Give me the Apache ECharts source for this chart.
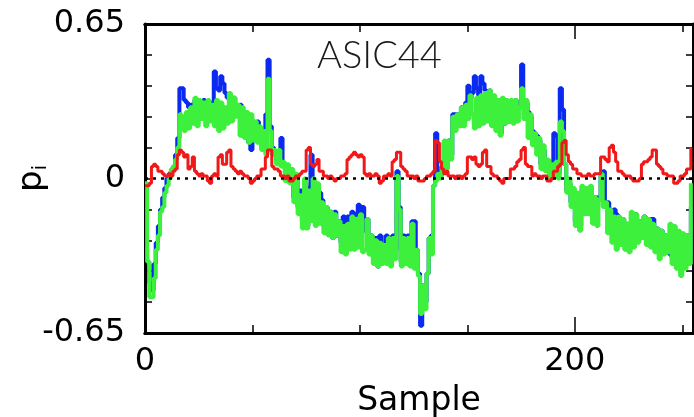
<!DOCTYPE html>
<html>
<head>
<meta charset="utf-8">
<script src="https://cdn.jsdelivr.net/npm/echarts@6/dist/echarts.min.js"></script>
<style>
  html, body { margin: 0; padding: 0; background: #fff; }
  #chart { width: 694px; height: 417px; }
</style>
</head>
<body>
<div id="chart"></div>
<script>
// p_i per sample
const blueP = [
  -0.30, -0.35, -0.44, -0.47, -0.36, -0.27, -0.20, -0.13, -0.08, -0.04,
  0.00, 0.02, 0.03, 0.05, 0.10, 0.17, 0.38, 0.38, 0.33, 0.32,
  0.30, 0.31, 0.28, 0.33, 0.30, 0.32, 0.30, 0.33, 0.29, 0.32,
  0.25, 0.32, 0.45, 0.38, 0.37, 0.43, 0.40, 0.36, 0.34, 0.35,
  0.33, 0.34, 0.31, 0.30, 0.31, 0.24, 0.25, 0.22, 0.15, 0.12,
  0.24, 0.17, 0.24, 0.18, 0.14, 0.18, 0.27, 0.50, 0.22, 0.13,
  0.11, 0.08, 0.10, 0.17, 0.06, 0.04, 0.05, -0.01, 0.03, -0.08,
  0.01, -0.12, -0.05, -0.18, -0.02, -0.20, -0.04, 0.10, -0.01, -0.18,
  -0.05, -0.06, -0.09, -0.20, -0.12, -0.22, -0.14, -0.25, -0.14, -0.24,
  -0.18, -0.27, -0.16, -0.19, -0.16, -0.20, -0.14, -0.25, -0.15, -0.11,
  -0.15, -0.12, -0.22, -0.17, -0.30, -0.24, -0.33, -0.25, -0.37, -0.24,
  -0.33, -0.28, -0.24, -0.25, -0.26, -0.24, -0.30, 0.03, -0.12, -0.35,
  -0.24, -0.29, -0.24, -0.33, -0.18, -0.18, -0.30, -0.40, -0.62, -0.45,
  -0.52, -0.40, -0.25, -0.24, -0.03, 0.19, 0.03, 0.01, 0.05, 0.15,
  0.05, 0.16, 0.10, 0.27, 0.27, 0.27, 0.23, 0.30, 0.24, 0.32,
  0.39, 0.34, 0.36, 0.43, 0.38, 0.35, 0.43, 0.40, 0.37, 0.33,
  0.37, 0.30, 0.33, 0.24, 0.30, 0.19, 0.30, 0.23, 0.31, 0.24,
  0.32, 0.28, 0.33, 0.29, 0.30, 0.48, 0.33, 0.32, 0.28, 0.26,
  0.20, 0.19, 0.18, 0.16, 0.06, 0.12, 0.04, 0.07, 0.01, 0.05,
  0.19, 0.18, 0.02, 0.38, 0.29, 0.06, -0.05, -0.02, -0.10, -0.05,
  -0.18, -0.07, -0.20, -0.05, -0.13, -0.05, -0.14, -0.04, -0.17, -0.08,
  -0.08, -0.09, 0.01, 0.03, -0.10, -0.10, -0.13, -0.17, -0.13, -0.15,
  -0.16, -0.17, -0.17, -0.25, -0.19, -0.25, -0.27, -0.28, -0.15, -0.26,
  -0.18, -0.25, -0.16, -0.18, -0.23, -0.17, -0.17, -0.30, -0.21, -0.25,
  -0.22, -0.30, -0.24, -0.30, -0.32, -0.33, -0.30, -0.36, -0.24, -0.38,
  -0.24, -0.35, -0.24, -0.33, -0.12
];

const greenP = [
  -0.02, -0.35, -0.50, -0.50, -0.42, -0.30, -0.24, -0.14, -0.12, -0.06,
  -0.03, 0.00, 0.04, 0.05, 0.08, 0.13, 0.27, 0.26, 0.20, 0.28,
  0.21, 0.30, 0.23, 0.34, 0.22, 0.33, 0.25, 0.32, 0.22, 0.33,
  0.24, 0.31, 0.22, 0.33, 0.20, 0.32, 0.21, 0.30, 0.23, 0.36,
  0.24, 0.34, 0.26, 0.31, 0.18, 0.30, 0.17, 0.28, 0.15, 0.27,
  0.16, 0.24, 0.15, 0.22, 0.12, 0.20, 0.10, 0.42, 0.20, 0.10,
  0.12, 0.06, 0.12, 0.05, 0.07, -0.01, 0.06, -0.02, 0.04, -0.10,
  0.02, -0.15, -0.07, -0.21, 0.00, -0.21, -0.05, -0.18, 0.00, -0.20,
  -0.02, -0.19, -0.10, -0.23, -0.12, -0.24, -0.14, -0.25, -0.15, -0.24,
  -0.18, -0.31, -0.20, -0.32, -0.19, -0.30, -0.16, -0.30, -0.17, -0.29,
  -0.15, -0.31, -0.30, -0.17, -0.32, -0.24, -0.36, -0.26, -0.37, -0.27,
  -0.36, -0.28, -0.36, -0.25, -0.37, -0.25, -0.34, 0.01, -0.13, -0.37,
  -0.25, -0.36, -0.25, -0.37, -0.19, -0.38, -0.30, -0.41, -0.57, -0.45,
  -0.55, -0.40, -0.25, -0.32, -0.03, -0.01, 0.02, 0.00, 0.04, 0.16,
  0.04, 0.16, 0.08, 0.26, 0.20, 0.27, 0.22, 0.30, 0.22, 0.31,
  0.25, 0.35, 0.27, 0.21, 0.34, 0.22, 0.35, 0.23, 0.36, 0.24,
  0.37, 0.22, 0.35, 0.20, 0.33, 0.18, 0.34, 0.23, 0.33, 0.24,
  0.33, 0.23, 0.33, 0.24, 0.30, 0.38, 0.25, 0.33, 0.17, 0.27,
  0.14, 0.19, 0.10, 0.17, 0.04, 0.14, 0.03, 0.08, 0.00, 0.06,
  0.01, 0.07, 0.00, 0.24, 0.20, 0.06, -0.06, 0.00, -0.12, -0.04,
  -0.20, -0.06, -0.22, -0.03, -0.15, -0.04, -0.15, -0.03, -0.19, -0.08,
  -0.20, -0.09, 0.02, -0.12, -0.10, -0.23, -0.13, -0.27, -0.16, -0.30,
  -0.16, -0.28, -0.17, -0.30, -0.19, -0.31, -0.14, -0.29, -0.15, -0.27,
  -0.18, -0.25, -0.16, -0.28, -0.17, -0.29, -0.19, -0.31, -0.21, -0.34,
  -0.22, -0.32, -0.24, -0.31, -0.19, -0.36, -0.20, -0.38, -0.22, -0.41,
  -0.23, -0.38, -0.24, -0.36, -0.02
];

const redP = [
  -0.03, -0.03, -0.02, 0.05, 0.06, 0.05, 0.03, 0.03, 0.02, 0.01,
  0.01, 0.02, 0.01, 0.03, 0.04, 0.10, 0.12, 0.11, 0.09, 0.10,
  0.04, 0.05, 0.09, 0.03, 0.02, 0.01, 0.02, 0.01, 0.01, -0.01,
  -0.02, 0.01, 0.02, 0.01, 0.09, 0.10, 0.06, 0.06, 0.11, 0.12,
  0.05, 0.04, 0.03, 0.02, 0.03, 0.02, 0.01, 0.01, 0.00, -0.02,
  -0.01, 0.00, 0.01, 0.01, 0.04, 0.04, 0.09, 0.12, 0.12, 0.05,
  0.04, 0.04, 0.03, 0.01, 0.01, 0.00, 0.01, -0.01, -0.01, 0.00,
  0.01, 0.01, 0.02, 0.03, 0.03, 0.12, 0.13, 0.06, 0.05, 0.06,
  0.08, 0.03, 0.03, 0.01, 0.01, 0.00, 0.01, 0.00, -0.01, 0.00,
  0.00, 0.01, 0.01, 0.02, 0.08, 0.09, 0.10, 0.11, 0.10, 0.09,
  0.10, 0.09, 0.02, 0.01, 0.02, 0.01, 0.01, 0.02, 0.01, -0.02,
  -0.01, 0.01, 0.01, 0.02, 0.01, 0.07, 0.08, 0.11, 0.11, 0.05,
  0.04, 0.03, 0.01, 0.01, 0.01, 0.00, 0.01, -0.01, -0.01, -0.01,
  0.00, 0.01, 0.01, 0.02, 0.03, 0.16, 0.15, 0.07, 0.04, 0.02,
  0.03, 0.01, 0.01, 0.01, 0.00, 0.01, 0.01, 0.00, 0.01, 0.02,
  0.09, 0.09, 0.08, 0.09, 0.06, 0.05, 0.06, 0.11, 0.12, 0.05,
  0.05, 0.02, 0.01, 0.01, 0.00, -0.01, -0.02, 0.00, 0.00, 0.00,
  0.04, 0.04, 0.05, 0.07, 0.08, 0.12, 0.13, 0.06, 0.05, 0.05,
  0.01, 0.02, 0.01, 0.01, 0.00, 0.01, 0.01, -0.01, -0.01, 0.00,
  0.03, 0.03, 0.05, 0.06, 0.15, 0.16, 0.10, 0.07, 0.06, 0.04,
  0.04, 0.02, 0.02, 0.01, 0.01, 0.01, 0.02, 0.01, 0.01, 0.02,
  0.02, 0.02, 0.09, 0.09, 0.08, 0.07, 0.13, 0.14, 0.11, 0.07,
  0.03, 0.03, 0.02, 0.01, 0.01, 0.01, 0.00, -0.01, -0.01, -0.01,
  0.00, 0.06, 0.07, 0.07, 0.08, 0.09, 0.12, 0.12, 0.06, 0.05,
  0.04, 0.02, 0.02, 0.01, 0.01, 0.01, -0.02, -0.02, -0.01, 0.01,
  0.01, 0.02, 0.04, 0.04, 0.13
];

const xLabels = [0, 200];
const yLabels = [-0.65, 0, 0.65];

const FONT = "DejaVu Sans";
const pairs = arr => arr.map((v, i) => [i, v]);

const showOnly = list => v => {
  const hit = list.find(t => Math.abs(t - v) < 1e-6);
  return hit === undefined ? "" : String(hit);
};

const chart = echarts.init(document.getElementById("chart"));

const xBase = {
  type: "value",
  min: 0,
  max: 255,
  axisLine: { show: true, onZero: false, lineStyle: { color: "#000", width: 3 } },
  splitLine: { show: false },
  axisTick: { inside: true, length: 8, lineStyle: { color: "#000", width: 1.5 } }
};

const yBase = {
  type: "value",
  min: -0.65,
  max: 0.65,
  interval: 0.13,
  axisLine: { show: true, onZero: false, lineStyle: { color: "#000", width: 3 } },
  splitLine: { show: false },
  axisTick: { inside: true, length: 7, lineStyle: { color: "#000", width: 1.5 } }
};

chart.setOption({
  animation: false,
  backgroundColor: "#fff",
  title: {
    text: "ASIC44",
    left: 317,
    top: 37,
    padding: 0,
    textStyle: { fontFamily: "Lato", fontWeight: 300, fontSize: 38, color: "#1a1a1a" }
  },
  // y axis name, rotated like the original
  graphic: [
    {
      type: "text",
      x: 51,
      y: 192,
      rotation: Math.PI / 2,
      style: {
        text: "{p|p}{sub|i}",
        fill: "#000",
        align: "left",
        verticalAlign: "bottom",
        rich: {
          p: { fontFamily: FONT, fontSize: 34, lineHeight: 38, verticalAlign: "middle" },
          sub: { fontFamily: FONT, fontSize: 20, lineHeight: 38, verticalAlign: "bottom" }
        }
      }
    }
  ],
  grid: { left: 145, right: 1, top: 24, bottom: 84, outerBoundsMode: "none", containLabel: false },
  xAxis: [
    Object.assign({}, xBase, {
      position: "bottom",
      interval: 50,
      axisLabel: { show: false },
      name: "Sample",
      nameLocation: "middle",
      nameGap: 52,
      nameTextStyle: { fontFamily: FONT, fontSize: 33, color: "#000" }
    }),
    Object.assign({}, xBase, {
      position: "bottom",
      interval: 200,
      axisTick: { inside: true, length: 16, lineStyle: { color: "#000", width: 1.5 } },
      axisLabel: {
        margin: 13,
        fontFamily: FONT,
        fontSize: 32,
        color: "#000",
        formatter: showOnly(xLabels)
      }
    }),
    Object.assign({}, xBase, {
      position: "top",
      interval: 50,
      axisLabel: { show: false }
    }),
    Object.assign({}, xBase, {
      position: "top",
      interval: 200,
      axisTick: { inside: true, length: 15, lineStyle: { color: "#000", width: 1.5 } },
      axisLabel: { show: false }
    })
  ],
  yAxis: [
    Object.assign({}, yBase, {
      position: "left",
      axisLabel: {
        margin: 20,
        fontFamily: FONT,
        fontSize: 32,
        color: "#000",
        formatter: showOnly(yLabels)
      }
    }),
    Object.assign({}, yBase, {
      position: "right",
      axisLabel: { show: false }
    })
  ],
  series: [
    {
      name: "blue",
      type: "line",
      step: "end",
      showSymbol: false,
      data: pairs(blueP),
      lineStyle: { color: "#0a2af0", width: 4 },
      z: 2
    },
    {
      name: "green",
      type: "line",
      step: "end",
      showSymbol: false,
      data: pairs(greenP),
      lineStyle: { color: "#3cf03c", width: 4 },
      z: 3
    },
    {
      name: "red",
      type: "line",
      step: "end",
      showSymbol: false,
      data: pairs(redP),
      lineStyle: { color: "#f01818", width: 3 },
      z: 4,
      markLine: {
        silent: true,
        symbol: "none",
        label: { show: false },
        lineStyle: { color: "#000", width: 2.5, type: [3, 5] },
        data: [{ yAxis: 0 }]
      }
    }
  ]
});
</script>
</body>
</html>
